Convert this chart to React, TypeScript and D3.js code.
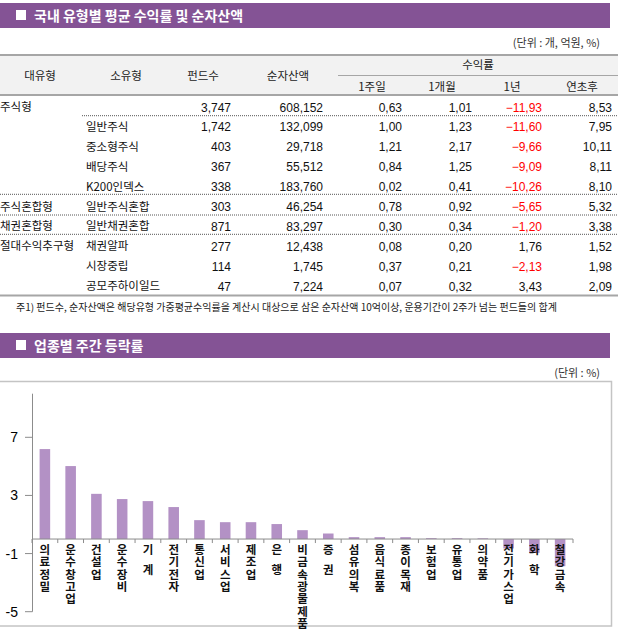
import React from "react";
import * as d3 from "d3";

const majorTypes = ["주식형", "", "", "", "", "주식혼합형", "채권혼합형", "절대수익추구형", "", ""];
const minorTypes = ["", "일반주식", "중소형주식", "배당주식", "K200인덱스", "일반주식혼합", "일반채권혼합", "채권알파", "시장중립", "공모주하이일드"];
const fundCounts = [3747, 1742, 403, 367, 338, 303, 871, 277, 114, 47];
const netAssets = [608152, 132099, 29718, 55512, 183760, 46254, 83297, 12438, 1745, 7224];
const ret1w = [0.63, 1.0, 1.21, 0.84, 0.02, 0.78, 0.3, 0.08, 0.37, 0.07];
const ret1m = [1.01, 1.23, 2.17, 1.25, 0.41, 0.92, 0.34, 0.2, 0.21, 0.32];
const ret1y = [-11.93, -11.6, -9.66, -9.09, -10.26, -5.65, -1.2, 1.76, -2.13, 3.43];
const retYtd = [8.53, 7.95, 10.11, 8.11, 8.1, 5.32, 3.38, 1.52, 1.98, 2.09];

const sectors = ["의료정밀", "운수창고업", "건설업", "운수장비", "기 계", "전기전자", "통신업", "서비스업", "제조업", "은  행", "비금속광물제품", "증  권", "섬유의복", "음식료품", "종이목재", "보험업", "유통업", "의약품", "전기가스업", "화 학", "철강금속"];
const sectorValues = [6.19, 5.02, 3.11, 2.75, 2.61, 2.2, 1.3, 1.16, 1.16, 1.03, 0.61, 0.38, 0.13, 0.13, 0.13, 0.06, 0.06, 0.05, -0.65, -0.95, -1.87];
const yTicks = [-5, -1, 3, 7];

const PURPLE = "#845395";
const BAR = "#b391c5";
const KFONT = "'Noto Sans CJK KR', 'Noto Sans', sans-serif";
const NFONT = "'Liberation Sans', Arial, sans-serif";

const locale = d3.formatLocale({ decimal: ",", thousands: ",", grouping: [3], currency: ["", ""] });
const fmtInt = locale.format(",d");
const fmtDec = locale.format(".2f");

export default function App() {
  const W = 620, H = 632;
  const rowY = (i: number) => 107 + i * 19.9;

  const x = d3.scaleBand<string>().domain(sectors).range([32, 573]).paddingInner(0.59).paddingOuter(0.295);
  const y = d3.scaleLinear().domain([-5, 10]).range([611.7, 393.7]);
  const step = x.step();
  const bw = x.bandwidth();

  const cols = [
    { key: "cnt", right: 231, vals: fundCounts, f: fmtInt },
    { key: "na", right: 323, vals: netAssets, f: fmtInt },
    { key: "w", right: 402, vals: ret1w, f: fmtDec },
    { key: "m", right: 472, vals: ret1m, f: fmtDec },
    { key: "y", right: 542, vals: ret1y, f: fmtDec },
    { key: "ytd", right: 612, vals: retYtd, f: fmtDec },
  ];

  return (
    <svg width={W} height={H} style={{ position: "absolute", left: 0, top: 0, background: "#fff" }}>
      {/* Section 1 title */}
      <rect x={0} y={3} width={610} height={25} fill={PURPLE} />
      <rect x={16} y={10} width={10} height={10} fill="#fff" />
      <text x={34} y={21} fill="#fff" fontFamily={KFONT} fontSize={14} fontWeight="bold">국내 유형별 평균 수익률 및 순자산액</text>
      <text x={600} y={47} textAnchor="end" fontFamily={KFONT} fontSize={11} fill="#333">(단위 : 개, 억원, %)</text>

      {/* header */}
      <rect x={0} y={55} width={618} height={40} fill="#f2f2f2" />
      <line x1={0} x2={618} y1={55} y2={55} stroke="#a6a6a6" strokeWidth={2} />
      <line x1={338} x2={618} y1={75.5} y2={75.5} stroke="#a6a6a6" strokeWidth={1} />
      <line x1={0} x2={618} y1={95} y2={95} stroke="#a6a6a6" strokeWidth={2} />
      {[
        ["대유형", 40, 80],
        ["소유형", 126, 80],
        ["펀드수", 203, 80],
        ["순자산액", 288, 80],
        ["수익률", 478, 69],
        ["1주일", 372, 91],
        ["1개월", 442, 91],
        ["1년", 512, 91],
        ["연초후", 582, 91],
      ].map(([t, cx, cy]) => (
        <text key={t as string} x={cx as number} y={cy as number} textAnchor="middle" fontFamily={KFONT} fontSize={11.5} fill="#222">{t}</text>
      ))}

      {/* rows */}
      {majorTypes.map((mt, i) => (
        <g key={"r" + i}>
          {mt && <text x={0} y={rowY(i) + 4} fontFamily={KFONT} fontSize={11.5} fill="#111">{mt}</text>}
          {minorTypes[i] && <text x={86} y={rowY(i) + 4} fontFamily={KFONT} fontSize={11.5} fill="#111">{minorTypes[i]}</text>}
          {cols.map((c) => (
            <text key={c.key} x={c.right} y={rowY(i) + 4.5} textAnchor="end" fontFamily={NFONT} fontSize={12}
              fill={c.vals[i] < 0 ? "#ff0000" : "#111"}>{c.f(c.vals[i])}</text>
          ))}
        </g>
      ))}
      <line x1={82} x2={618} y1={115.7} y2={115.7} stroke="#555" strokeWidth={1} strokeDasharray="1,1" />
      {[194.3, 215, 234.3].map((yy) => (
        <line key={yy} x1={0} x2={618} y1={yy} y2={yy} stroke="#555" strokeWidth={1} strokeDasharray="1,1" />
      ))}
      <line x1={0} x2={618} y1={295.5} y2={295.5} stroke="#a6a6a6" strokeWidth={2} />
      <text x={16} y={311} fontFamily={KFONT} fontSize={10} fill="#222">주1) 펀드수, 순자산액은 해당유형 가중평균수익률을 계산시 대상으로 삼은 순자산액 10억이상, 운용기간이 2주가 넘는 펀드들의 합계</text>

      {/* Section 2 title */}
      <rect x={0} y={333} width={610} height={25} fill={PURPLE} />
      <rect x={16} y={340} width={10} height={10} fill="#fff" />
      <text x={34} y={351} fill="#fff" fontFamily={KFONT} fontSize={14} fontWeight="bold">업종별 주간 등락률</text>
      <text x={600} y={377} textAnchor="end" fontFamily={KFONT} fontSize={11} fill="#333">(단위 : %)</text>

      {/* chart frame */}
      <rect x={-1} y={381.5} width={612.5} height={244.5} fill="none" stroke="#c4c4c4" strokeWidth={1.5} />

      {/* bars */}
      {sectors.map((s, i) => {
        const v = sectorValues[i];
        const y0 = y(0), y1 = y(v);
        return <rect key={s} x={x(s)!} y={Math.min(y0, y1)} width={bw} height={Math.abs(y1 - y0)} fill={BAR} />;
      })}

      {/* y axis */}
      <line x1={32.5} x2={32.5} y1={y(10)} y2={y(-5)} stroke="#8c8c8c" strokeWidth={1} />
      {yTicks.map((t) => (
        <g key={t}>
          <line x1={25} x2={32.5} y1={y(t)} y2={y(t)} stroke="#8c8c8c" strokeWidth={1} />
          <text x={18} y={y(t) + 5} textAnchor="end" fontFamily={NFONT} fontSize={14} fill="#000">{t}</text>
        </g>
      ))}

      {/* x axis */}
      <line x1={32} x2={573} y1={y(0)} y2={y(0)} stroke="#8c8c8c" strokeWidth={1} />
      {d3.range(sectors.length + 1).map((k) => {
        const xx = 32 + k * step;
        return <line key={"t" + k} x1={xx} x2={xx} y1={y(0)} y2={y(0) + 4} stroke="#8c8c8c" strokeWidth={1} />;
      })}

      {/* category labels, vertical stacked text */}
      {sectors.map((s) => {
        const cx = x(s)! + bw / 2;
        return (
          <text key={"l" + s} x={cx} y={544}
            style={{ writingMode: "vertical-rl", textOrientation: "mixed", letterSpacing: "0.8px", wordSpacing: "4px" } as any}
            fontFamily={KFONT} fontSize={11.5} fontWeight="bold" fill="#111">{s}</text>
        );
      })}
    </svg>
  );
}
